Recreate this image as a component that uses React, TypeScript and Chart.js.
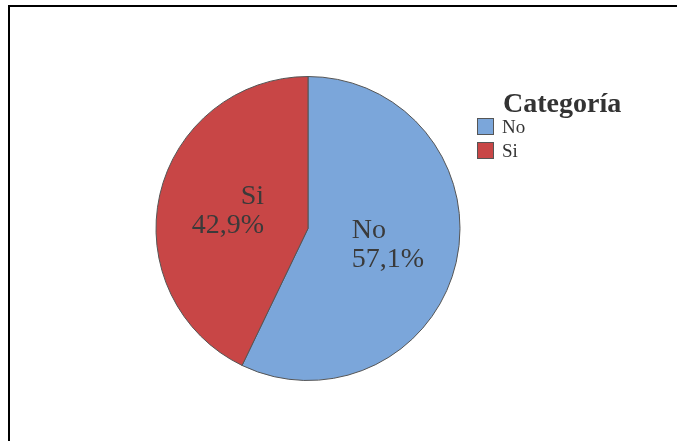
import React, { useEffect, useRef } from "react";
import { Chart, registerables } from "chart.js";

Chart.register(...registerables);

const categories: string[] = ["No", "Si"];
const counts: number[] = [4, 3];
const sliceColors: string[] = ["#7BA6DA", "#C84646"];
const legendTitle = "Categoría";

const fmtPct = (v: number, total: number) =>
  ((v / total) * 100).toFixed(1).replace(".", ",") + "%";

const sliceLabels = {
  id: "sliceLabels",
  afterDatasetsDraw(chart: any) {
    const ctx = chart.ctx;
    const meta = chart.getDatasetMeta(0);
    const data = chart.data.datasets[0].data as number[];
    const total = data.reduce((a, b) => a + b, 0);
    const cx = (chart.chartArea.left + chart.chartArea.right) / 2;
    ctx.save();
    ctx.font = "28px 'Liberation Serif', 'Times New Roman', serif";
    ctx.fillStyle = "#3a3a3a";
    ctx.textBaseline = "middle";
    const lh = 29;
    meta.data.forEach((arc: any, i: number) => {
      const p = arc.getCenterPoint();
      const px = cx + (p.x - cx) * 1.08;
      const lines = [chart.data.labels[i], fmtPct(data[i], total)];
      const w = Math.max(...lines.map((l: string) => ctx.measureText(l).width));
      const leftSide = px < cx;
      ctx.textAlign = leftSide ? "right" : "left";
      const x = leftSide ? px + w / 2 : px - w / 2;
      lines.forEach((l: string, k: number) => {
        ctx.fillText(l, x, p.y - lh / 2 + k * lh);
      });
    });
    ctx.restore();
  },
};

const customLegend = {
  id: "customLegend",
  afterDraw(chart: any) {
    const ctx = chart.ctx;
    const ds = chart.data.datasets[0];
    ctx.save();
    ctx.fillStyle = "#333333";
    ctx.textAlign = "left";
    ctx.textBaseline = "alphabetic";
    ctx.font = "bold 28px 'Liberation Serif', 'Times New Roman', serif";
    ctx.fillText(legendTitle, 503, 112);
    ctx.font = "19px 'Liberation Serif', 'Times New Roman', serif";
    (chart.data.labels as string[]).forEach((lab, i) => {
      const y = 118 + i * 24;
      ctx.fillStyle = ds.backgroundColor[i];
      ctx.fillRect(477, y, 17, 17);
      ctx.strokeStyle = "#555555";
      ctx.lineWidth = 1;
      ctx.strokeRect(477.5, y + 0.5, 16, 16);
      ctx.fillStyle = "#333333";
      ctx.fillText(lab, 502, y + 15);
    });
    ctx.restore();
  },
};

export default function App() {
  const ref = useRef<HTMLCanvasElement | null>(null);
  useEffect(() => {
    if (!ref.current) return;
    const chart = new Chart(ref.current, {
      type: "pie",
      data: {
        labels: categories,
        datasets: [
          {
            data: counts,
            backgroundColor: sliceColors,
            borderColor: "#555555",
            borderWidth: 1,
          },
        ],
      },
      options: {
        responsive: false,
        animation: false,
        layout: { padding: { left: 155, top: 76, right: 216, bottom: 60 } },
        plugins: {
          legend: { display: false },
          tooltip: { enabled: false },
        },
      },
      plugins: [sliceLabels, customLegend],
    });
    return () => chart.destroy();
  }, []);
  return (
    <div style={{ position: "fixed", left: 0, top: 0, width: 677, height: 441, background: "#fff" }}>
      <canvas ref={ref} width={677} height={441} style={{ display: "block", position: "absolute", left: 0, top: 0 }} />
      <div
        style={{
          position: "absolute",
          left: 8,
          top: 5,
          right: 0,
          bottom: 0,
          borderLeft: "2px solid #000",
          borderTop: "2px solid #000",
          pointerEvents: "none",
        }}
      />
    </div>
  );
}
